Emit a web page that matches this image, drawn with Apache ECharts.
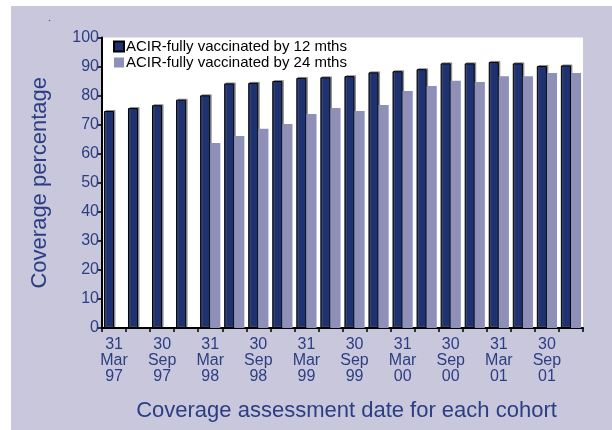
<!DOCTYPE html>
<html>
<head>
<meta charset="utf-8">
<script src="https://cdn.jsdelivr.net/npm/echarts@6/dist/echarts.min.js"></script>
<style>
  html, body { margin: 0; padding: 0; background: #ffffff; }
  #wrap { position: relative; width: 612px; height: 430px; overflow: hidden; }
  #panel { position: absolute; left: 11px; top: 6px; right: 0; bottom: 0; background: #c8c7dc; }
  #chart { position: absolute; left: 0; top: 0; width: 612px; height: 430px; }
</style>
</head>
<body>
<div id="wrap">
  <div id="panel"></div>
  <div id="chart"></div>
</div>
<script>
// Quarterly cohort assessment dates (every second one is labelled)
const dates = [
  '31\nMar\n97', '30\nJun\n97', '30\nSep\n97', '31\nDec\n97',
  '31\nMar\n98', '30\nJun\n98', '30\nSep\n98', '31\nDec\n98',
  '31\nMar\n99', '30\nJun\n99', '30\nSep\n99', '31\nDec\n99',
  '31\nMar\n00', '30\nJun\n00', '30\nSep\n00', '31\nDec\n00',
  '31\nMar\n01', '30\nJun\n01', '30\nSep\n01', '31\nDec\n01'
];

// Coverage (%) fully vaccinated by 12 months of age
const by12 = [74.7, 75.7, 76.7, 78.6, 80.1, 84.2, 84.4, 85.0, 86.1, 86.3,
              86.7, 88.0, 88.4, 89.1, 91.1, 91.1, 91.6, 91.1, 90.2, 90.4];

// Coverage (%) fully vaccinated by 24 months of age (not yet assessable for the first cohorts)
const by24 = [null, null, null, null, 63.7, 66.1, 68.6, 70.2, 73.7, 75.7,
              74.7, 76.8, 81.6, 83.3, 85.1, 84.7, 86.7, 86.7, 87.8, 87.8];

const yTicks = [0, 10, 20, 30, 40, 50, 60, 70, 80, 90, 100];

const seriesNames = ['ACIR-fully vaccinated by 12 mths', 'ACIR-fully vaccinated by 24 mths'];

const navy = '#1e3272';
const lilac = '#8f90b8';
const textBlue = '#2c3e82';
const narrow = "'Liberation Sans Narrow', 'Arial Narrow', 'Liberation Sans', Arial, sans-serif";
const sans = "'Liberation Sans', Arial, sans-serif";

const chart = echarts.init(document.getElementById('chart'), null, { renderer: 'canvas' });

chart.setOption({
  backgroundColor: 'transparent',
  animation: false,
  grid: {
    left: 102, right: 29, top: 37.5, bottom: 102,
    show: true, backgroundColor: '#ffffff', borderWidth: 0
  },
  legend: {
    orient: 'vertical',
    left: 108, top: 34,
    itemWidth: 10, itemHeight: 10, itemGap: 1,
    icon: 'rect',
    textStyle: { fontFamily: sans, fontSize: 15, color: '#000000', padding: [0, 0, 0, -3] },
    data: seriesNames
  },
  graphic: [
    { type: 'circle', shape: { cx: 49.5, cy: 20.5, r: 0.7 }, style: { fill: '#4a4f80' } }
  ],
  xAxis: {
    type: 'category',
    data: dates,
    name: 'Coverage assessment date for each cohort',
    nameLocation: 'middle',
    nameGap: 72,
    nameTextStyle: { fontFamily: sans, fontSize: 22, color: textBlue, padding: [0, 0, 0, 8] },
    axisLine: { lineStyle: { color: '#000000', width: 2 } },
    axisTick: { show: true, interval: 0, alignWithLabel: false, length: 4, lineStyle: { color: '#000000', width: 1.5 } },
    axisLabel: {
      interval: 1,
      fontFamily: narrow, fontSize: 16, lineHeight: 16,
      color: textBlue, margin: 9, align: 'center'
    }
  },
  yAxis: {
    type: 'value',
    min: 0, max: 100, interval: 10,
    name: 'Coverage percentage',
    nameLocation: 'middle',
    nameGap: 51,
    nameTextStyle: { fontFamily: sans, fontSize: 22, color: textBlue },
    axisLine: { show: true, lineStyle: { color: '#000000', width: 2 } },
    axisTick: { show: true, length: 4, lineStyle: { color: '#000000', width: 1.5 } },
    splitLine: { show: false },
    axisLabel: {
      fontFamily: narrow, fontSize: 16, color: textBlue, margin: 3,
      formatter: v => (yTicks.indexOf(v) >= 0 ? String(v) : '')
    }
  },
  series: [
    {
      name: seriesNames[0],
      type: 'bar',
      data: by12,
      barGap: '0%',
      barCategoryGap: '16%',
      itemStyle: {
        color: navy, borderColor: '#000000', borderWidth: 1,
        shadowColor: 'rgba(90,90,90,0.55)', shadowBlur: 0, shadowOffsetX: 1.5, shadowOffsetY: -1
      }
    },
    {
      name: seriesNames[1],
      type: 'bar',
      data: by24,
      barGap: '0%',
      barCategoryGap: '16%',
      itemStyle: { color: lilac, borderWidth: 0 }
    }
  ]
});
</script>
</body>
</html>
